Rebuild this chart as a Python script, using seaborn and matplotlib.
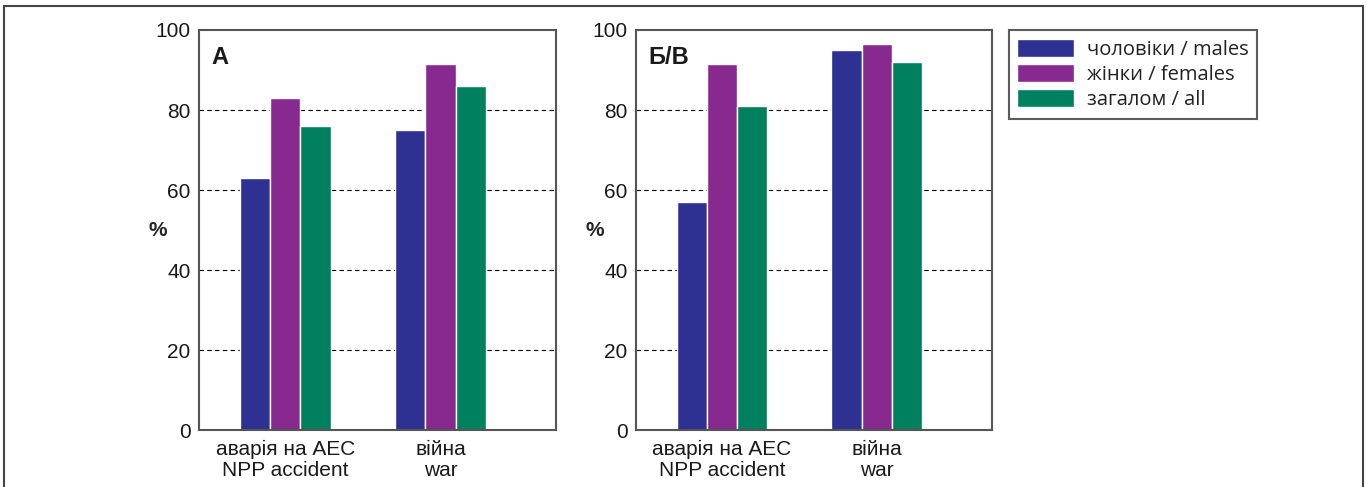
import numpy as np
import pandas as pd
import matplotlib
matplotlib.use("Agg")
import matplotlib.pyplot as plt
import seaborn as sns
from matplotlib.patches import Rectangle

# data
events = ["аварія на АЕС\nNPP accident", "війна\nwar"]
groups = ["чоловіки / males", "жінки / females", "загалом / all"]
panel_a = {"чоловіки / males": [63, 75], "жінки / females": [83, 91.5], "загалом / all": [76, 86]}
panel_b = {"чоловіки / males": [57, 95], "жінки / females": [91.5, 96.5], "загалом / all": [81, 92]}
panel_labels = ["А", "Б/В"]
yticks = [0, 20, 40, 60, 80, 100]

colors = ["#2e3192", "#87298f", "#00805f"]

sns.set_theme(style="white")
plt.rcParams["font.family"] = ["Liberation Sans Narrow", "Liberation Sans", "DejaVu Sans"]

rows = []
for pname, pdata in zip(panel_labels, [panel_a, panel_b]):
    for g in groups:
        for ev, v in zip(events, pdata[g]):
            rows.append({"panel": pname, "event": ev, "group": g, "value": v})
df = pd.DataFrame(rows)

fig = plt.figure(figsize=(13.67, 4.87), dpi=100)
ax_a = fig.add_axes([0.1456, 0.117, 0.2612, 0.8214])
ax_b = fig.add_axes([0.4653, 0.117, 0.2604, 0.8214])

for ax, pname in zip([ax_a, ax_b], panel_labels):
    sub = df[df["panel"] == pname]
    sns.barplot(data=sub, x="event", y="value", hue="group", order=events,
                hue_order=groups, palette=colors, width=0.585, gap=0,
                edgecolor="white", linewidth=1, saturation=1, ax=ax,
                legend=(pname == "А"))
    ax.set_xlim(-0.555, 1.745)
    ax.set_ylim(0, 100)
    ax.set_yticks(yticks)
    ax.set_xlabel("")
    ax.set_ylabel("%", rotation=0, fontsize=15, fontweight="bold",
                  family=["Liberation Sans", "DejaVu Sans"], va="center", ha="center")
    ax.yaxis.set_label_coords(-0.115, 0.5)
    for y in yticks[1:-1]:
        ax.axhline(y, color="black", linestyle=(0, (4, 3)), linewidth=0.8, zorder=0)
    ax.set_axisbelow(True)
    for s in ax.spines.values():
        s.set_color("#555555")
        s.set_linewidth(1.5)
    ax.tick_params(axis="y", length=0, labelsize=15, colors="#1a1a1a", pad=6)
    ax.tick_params(axis="x", length=0, labelsize=15, colors="#1a1a1a", pad=7)
    for lbl in ax.get_xticklabels():
        lbl.set_linespacing(1.15)
    ax.text(0.035, 0.96, pname, transform=ax.transAxes, fontsize=17,
            fontweight="bold", family=["Liberation Sans", "DejaVu Sans"],
            va="top", ha="left", color="#1a1a1a")

handles, labels = ax_a.get_legend_handles_labels()
ax_a.get_legend().remove()
leg = fig.legend(handles, labels, loc="upper left", bbox_to_anchor=(0.738, 0.938),
                 borderaxespad=0, frameon=True, fancybox=False, edgecolor="#333333",
                 prop={"family": ["Open Sans", "DejaVu Sans"], "size": 14.5},
                 handlelength=2.8, handleheight=1.0, labelspacing=0.22,
                 handletextpad=0.65, borderpad=0.42)
leg.get_frame().set_linewidth(1.5)
for t in leg.get_texts():
    t.set_color("#222222")

# outer frame of the figure
fig.patches.append(Rectangle((0.003, -0.05), 0.994, 1.038, transform=fig.transFigure,
                             fill=False, edgecolor="#444444", linewidth=1.5))

fig.savefig("out.png", dpi=100)
